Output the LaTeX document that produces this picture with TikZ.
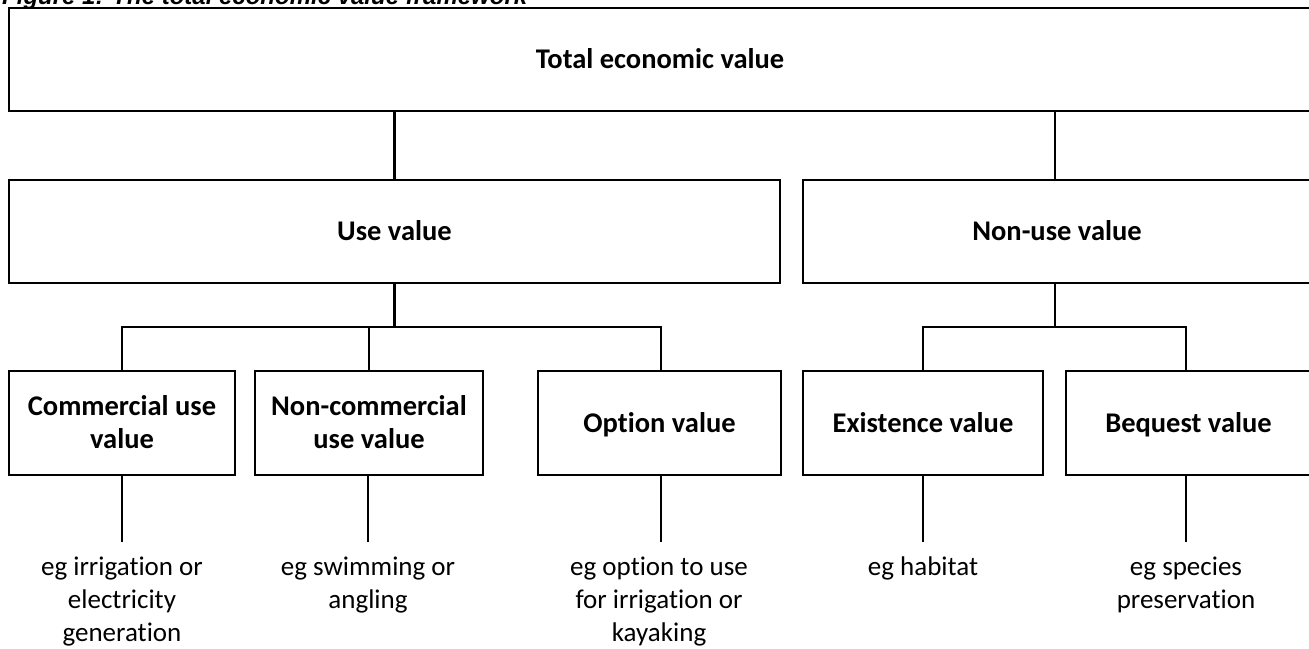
\documentclass[tikz,border=0pt]{standalone}
\usepackage{fontspec}
\setmainfont{Carlito}[Ligatures=NoCommon]
\newfontfamily\titlefont{Liberation Sans}
\tikzset{
  box/.style={draw, line width=2.6pt, rectangle, inner sep=0pt, outer sep=0pt,
    align=center, font=\bfseries\fontsize{28.5}{33}\selectfont},
  topbox/.style={box, line width=2.9pt},
  link/.style={line width=2.3pt},
  note/.style={anchor=base, inner sep=0pt, font=\fontsize{27}{33}\selectfont}
}
\newcommand{\notelines}[1]{\begin{tabular}[t]{@{}c@{}}#1\end{tabular}}
\newcommand{\bst}{\rule[-6pt]{0pt}{30pt}}
\begin{document}
\begin{tikzpicture}[x=1pt,y=-1pt]
\useasboundingbox (0,0) rectangle (1309,648);
\clip (0,0) rectangle (1309,648);
\node[anchor=base west, inner sep=0pt, font=\titlefont\bfseries\itshape\fontsize{24}{28}\selectfont] (title) at (2,4) {Figure 1: The total economic value framework};
% boxes
\node[topbox, minimum width=1302pt, minimum height=103pt] (tev) at (660,59.5) {\bst Total economic value};
\node[box, minimum width=771pt, minimum height=103pt] (use) at (394.5,231.5) {\bst Use value};
\node[box, minimum width=508pt, minimum height=103pt] (nonuse) at (1057,231.5) {\bst Non-use value};
\node[box, minimum width=226pt, minimum height=104pt] (comm) at (122,423) {\bst Commercial use\\\bst value};
\node[box, minimum width=228pt, minimum height=104pt] (ncomm) at (369,423) {\bst Non-commercial\\\bst use value};
\node[box, minimum width=243pt, minimum height=104pt] (opt) at (659.5,423) {\bst Option value};
\node[box, minimum width=240pt, minimum height=104pt] (exist) at (923,423) {\bst Existence value};
\node[box, minimum width=245pt, minimum height=104pt] (beq) at (1188.5,423) {\bst Bequest value};
% branch points
\coordinate (ubr) at (394.5,327);
\coordinate (nbr) at (1055,327);
% connectors
\draw[link] (tev.south -| use.north) -- (use.north);
\draw[link] ([xshift=-2pt]nonuse.north |- tev.south) -- ([xshift=-2pt]nonuse.north);
\draw[link] (use.south) -- (ubr);
\draw[link] (comm.north) -- (comm.north |- ubr) -- ([xshift=1.5pt]opt.north |- ubr) -- ([xshift=1.5pt]opt.north);
\draw[link] (ncomm.north) -- (ncomm.north |- ubr);
\draw[link] ([xshift=-2pt]nonuse.south) -- (nbr);
\draw[link] (exist.north) -- (exist.north |- nbr) -- ([xshift=-2.5pt]beq.north |- nbr) -- ([xshift=-2.5pt]beq.north);
% stems to examples
\coordinate (c1) at (122,542);
\coordinate (c2) at (368,542);
\coordinate (c3) at (661,542);
\coordinate (c4) at (923,542);
\coordinate (c5) at (1186,542);
\draw[link] (comm.south) -- (c1);
\draw[link] (ncomm.south -| c2) -- (c2);
\draw[link] (opt.south -| c3) -- (c3);
\draw[link] (exist.south) -- (c4);
\draw[link] (beq.south -| c5) -- (c5);
% examples
\node[note] (e1) at (122,575) {\notelines{eg irrigation or\\electricity\\generation}};
\node[note] (e2) at (368,575) {\notelines{eg swimming or\\angling}};
\node[note] (e3) at (659,575) {\notelines{eg option to use\\for irrigation or\\kayaking}};
\node[note] (e4) at (923,575) {\notelines{eg habitat}};
\node[note] (e5) at (1186,575) {\notelines{eg species\\preservation}};
\end{tikzpicture}
\end{document}
